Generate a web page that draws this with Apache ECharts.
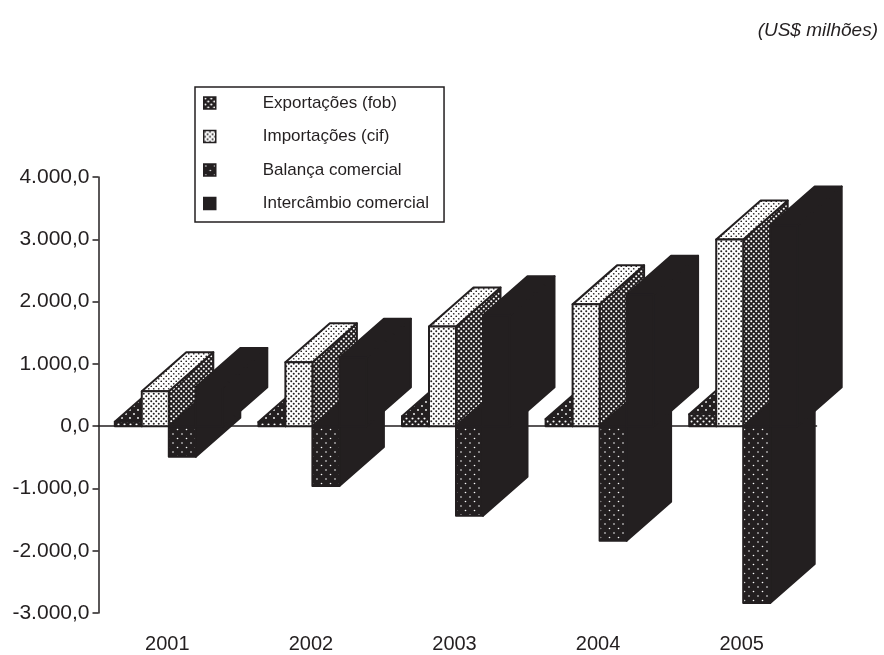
<!DOCTYPE html>
<html>
<head>
<meta charset="utf-8">
<style>html,body{margin:0;padding:0;background:#fff}#c{width:884px;height:655px}</style>
<script src="https://cdn.jsdelivr.net/npm/echarts@6/dist/echarts.min.js"></script>
</head>
<body>
<div id="c"></div>
<script>
var categories = ['2001', '2002', '2003', '2004', '2005'];
var exportacoes = [70, 65, 160, 115, 190];
var importacoes = [560, 1025, 1600, 1955, 2995];
var balanca = [-490, -960, -1440, -1840, -2840];
var intercambio = [630, 1100, 1780, 2110, 3220];
var seriesNames = ['Exportações (fob)', 'Importações (cif)', 'Balança comercial', 'Intercâmbio comercial'];
var unitText = '(US$ milhões)';

var INK = '#231f20';
function dots(size, bg, fg, pts, r) {
  var c = document.createElement('canvas');
  c.width = c.height = size;
  var g = c.getContext('2d');
  g.fillStyle = bg; g.fillRect(0, 0, size, size);
  g.fillStyle = fg;
  pts.forEach(function (p) { g.beginPath(); g.arc(p[0], p[1], r, 0, Math.PI * 2); g.fill(); });
  return { image: c, repeat: 'repeat' };
}
var patExportFront = dots(6, INK, '#fff', [[1.5, 1.5], [4.5, 4.5]], 1.05);
var patExportTop = dots(8, INK, '#fff', [[2, 2], [6, 6]], 0.9);
var patImportFront = dots(5, '#fff', INK, [[1.25, 1.25], [3.75, 3.75]], 1.0);
var patImportTop = dots(5, '#fff', INK, [[1.25, 1.25], [3.75, 3.75]], 0.85);
var patImportSide = dots(5, INK, '#fff', [[1.25, 1.25], [3.75, 3.75]], 1.05);
var patBalanceFront = dots(9, INK, '#fff', [[2, 2], [6.5, 6.5]], 0.8);

var faces = [
  { front: patExportFront, side: INK, top: patExportTop },
  { front: patImportFront, side: patImportSide, top: patImportTop },
  { front: patBalanceFront, side: INK, top: INK },
  { front: INK, side: INK, top: INK }
];
var DEPTH_X = 44.5, DEPTH_Y = -39, BAR_RATIO = 0.188, GROUP_SHIFT = -1.5;

function renderBar(params, api) {
  var cat = api.value(0), val = api.value(1);
  var zero = api.coord([cat, 0]);
  var tip = api.coord([cat, val]);
  var bw = api.size([1, 0])[0] * BAR_RATIO;
  var x0 = zero[0] + GROUP_SHIFT + (params.seriesIndex - 2) * bw;
  var x1 = x0 + bw;
  var yT = Math.min(zero[1], tip[1]), yB = Math.max(zero[1], tip[1]);
  var f = faces[params.seriesIndex];
  function poly(points, fill) {
    return { type: 'polygon', shape: { points: points },
      style: { fill: fill, stroke: INK, lineWidth: 2, lineJoin: 'round' } };
  }
  return { type: 'group', children: [
    poly([[x1, yT], [x1, yB], [x1 + DEPTH_X, yB + DEPTH_Y], [x1 + DEPTH_X, yT + DEPTH_Y]], f.side),
    poly([[x0, yT], [x1, yT], [x1 + DEPTH_X, yT + DEPTH_Y], [x0 + DEPTH_X, yT + DEPTH_Y]], f.top),
    poly([[x0, yT], [x1, yT], [x1, yB], [x0, yB]], f.front)
  ] };
}
function seriesData(arr) { return arr.map(function (v, i) { return [i, v]; }); }
function fmt(v) {
  var neg = v < 0, s = String(Math.abs(v));
  if (s.length > 3) s = s.slice(0, -3) + '.' + s.slice(-3);
  return (neg ? '-' : '') + s + ',0';
}
var font = '"Liberation Sans", Arial, sans-serif';
var values = [exportacoes, importacoes, balanca, intercambio];
var legendFills = [patExportFront, patImportFront, patBalanceFront, INK];

var chart = echarts.init(document.getElementById('c'), null, { renderer: 'canvas' });
chart.setOption({
  animation: false,
  backgroundColor: '#fff',
  title: {
    text: unitText, right: 1, top: 16,
    textStyle: { fontFamily: font, fontStyle: 'italic', fontWeight: 'normal', fontSize: 19, color: INK }
  },
  legend: {
    orient: 'vertical', left: 195, top: 87, icon: 'rect', selectedMode: false,
    itemWidth: 12, itemHeight: 12, itemGap: 16.5,
    padding: [7.5, 15, 10, 8],
    borderColor: INK, borderWidth: 1.5, backgroundColor: '#fff',
    textStyle: { fontFamily: font, fontSize: 17, color: INK, padding: [0, 0, 0, 42] },
    data: seriesNames.map(function (n, i) {
      return { name: n, itemStyle: { color: legendFills[i], borderColor: INK, borderWidth: 1.5 } };
    })
  },
  grid: { left: 98.5, right: 67.5, top: 177, bottom: 42, containLabel: false },
  xAxis: [
    { type: 'category', data: categories, position: 'bottom',
      axisLine: { show: false, onZero: false }, axisTick: { show: false },
      axisLabel: { fontFamily: font, fontSize: 20, color: INK, margin: 21, padding: [0, 6, 0, 0] } },
    { type: 'category', data: categories, position: 'bottom',
      axisLine: { onZero: true, lineStyle: { color: INK, width: 1.5 } },
      axisTick: { length: 6, lineStyle: { color: INK, width: 1.5 } },
      axisLabel: { show: false } }
  ],
  yAxis: {
    type: 'value', min: -3000, max: 4000, interval: 1000,
    axisLine: { show: true, lineStyle: { color: INK, width: 1.5 } },
    axisTick: { show: true, length: 6, lineStyle: { color: INK, width: 1.5 } },
    splitLine: { show: false },
    axisLabel: { formatter: fmt, fontFamily: font, fontSize: 21, color: INK, margin: 9 }
  },
  series: seriesNames.map(function (n, i) {
    return { name: n, type: 'custom', xAxisIndex: 0, renderItem: renderBar, clip: false,
      itemStyle: { color: legendFills[i] },
      encode: { x: 0, y: 1 }, data: seriesData(values[i]) };
  })
});
</script>
</body>
</html>
